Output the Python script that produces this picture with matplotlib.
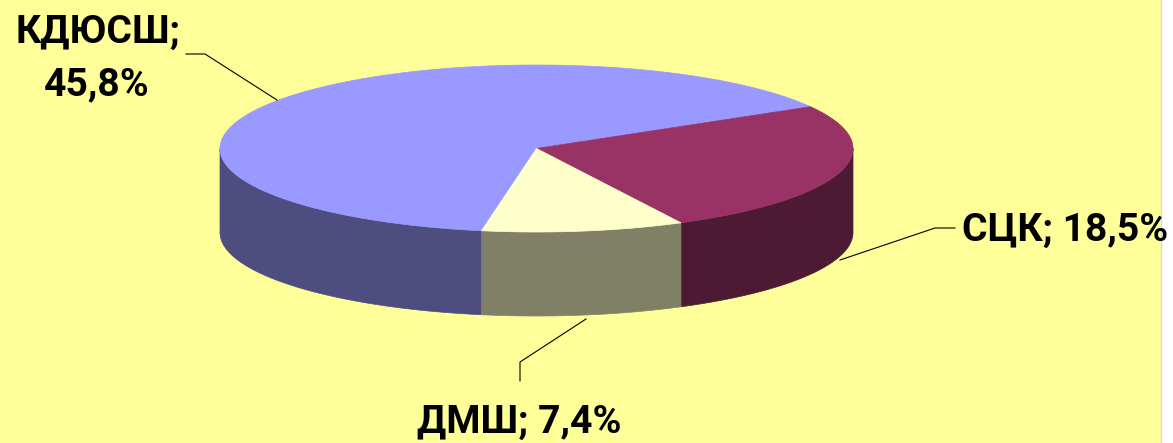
import numpy as np
import matplotlib
matplotlib.use('Agg')
import matplotlib.pyplot as plt

# Data
labels = ['КДЮСШ', 'СЦК', 'ДМШ']
values = [45.8, 18.5, 7.4]
value_text = ['45,8%', '18,5%', '7,4%']
top_colors = ['#9999FF', '#993366', '#FFFFCC']
side_colors = ['#4D4D80', '#4D1A33', '#808066']

W, H = 1173, 443
start_angle = 260.0
cx, cy = 536.5, 148.5
rx, ry = 316.5, 83.5
depth = 84.0

plt.rcParams['font.family'] = ['Roboto', 'DejaVu Sans']

fig = plt.figure(figsize=(W/100, H/100), dpi=100, facecolor='white')
ax = fig.add_axes([0, 0, 1, 1])
ax.set_xlim(0, W)
ax.set_ylim(H, 0)
ax.axis('off')

# Background panel, stops short of the right edge
ax.fill_between([0, 1161], 0, H, color='#FFFF99', lw=0, zorder=0)
ax.plot([1161, 1161], [0, H], color='#D8D8D8', lw=1, zorder=1)

# Slice angles, clockwise from the start
sweeps = np.array(values) / sum(values) * 360.0
ends = start_angle - np.cumsum(sweeps)
starts = ends + sweeps

# Side walls: only the part of each slice on the front half
for a0, a1, col in zip(starts, ends, side_colors):
    t = np.radians(np.linspace(a0, a1, 600))
    t = t[np.sin(t) <= 0]
    x = cx + rx*np.cos(t)
    y = cy - ry*np.sin(t)
    ax.fill(np.r_[x, x[::-1]], np.r_[y, y[::-1] + depth], color=col, lw=0.5, zorder=2)

# Top faces
for a0, a1, col in zip(starts, ends, top_colors):
    t = np.radians(np.linspace(a0, a1, 400))
    x = cx + rx*np.cos(t)
    y = cy - ry*np.sin(t)
    ax.fill(np.r_[cx, x], np.r_[cy, y], color=col, lw=0.5, zorder=3)

# Leader lines
ax.plot([186, 205, 277], [54, 54, 100], color='black', lw=0.8, zorder=4)
ax.plot([840, 935, 955], [260, 228, 228], color='black', lw=0.8, zorder=4)
ax.plot([586, 520, 520], [319, 362, 381], color='black', lw=0.8, zorder=4)

# Data labels
fs = 28.2
ax.text(98, 32, labels[0] + ';', fontsize=fs, fontweight='bold', ha='center', va='center', zorder=5)
ax.text(97, 85, value_text[0], fontsize=fs, fontweight='bold', ha='center', va='center', zorder=5)
ax.text(1065, 230, labels[1] + '; ' + value_text[1], fontsize=fs, fontweight='bold', ha='center', va='center', zorder=5)
ax.text(519, 422, labels[2] + '; ' + value_text[2], fontsize=fs, fontweight='bold', ha='center', va='center', zorder=5)

fig.savefig('out.png', dpi=100)
